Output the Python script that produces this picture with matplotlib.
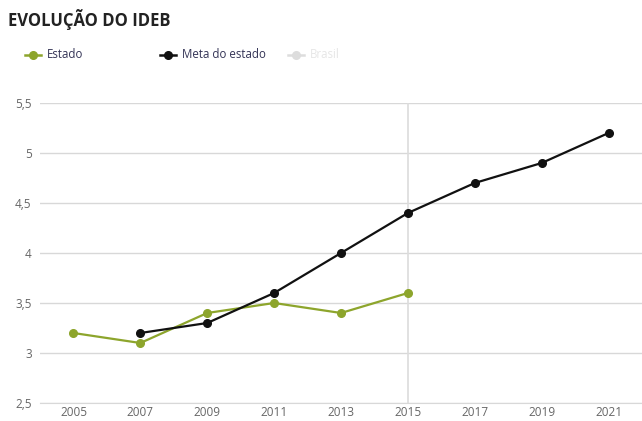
import matplotlib
matplotlib.use("Agg")
import matplotlib.pyplot as plt
from matplotlib.lines import Line2D

years = ["2005", "2007", "2009", "2011", "2013", "2015", "2017", "2019", "2021"]
estado = [3.2, 3.1, 3.4, 3.5, 3.4, 3.6, None, None, None]
meta_estado = [None, 3.2, 3.3, 3.6, 4.0, 4.4, 4.7, 4.9, 5.2]
y_ticks = [2.5, 3.0, 3.5, 4.0, 4.5, 5.0, 5.5]
y_labels = ["2,5", "3", "3,5", "4", "4,5", "5", "5,5"]
legend_labels = ["Estado", "Meta do estado", "Brasil"]

GREEN = "#8da52c"
BLACK = "#111111"
GRID = "#d8d8d8"
TICK = "#666666"

plt.rcParams["font.family"] = ["Open Sans", "DejaVu Sans"]

fig = plt.figure(figsize=(6.42, 4.21), dpi=100)
ax = fig.add_axes([40 / 642, 1 - 403 / 421, 602 / 642, 300 / 421])

x = list(range(len(years)))


def series(vals):
    xs = [i for i, v in zip(x, vals) if v is not None]
    ys = [v for v in vals if v is not None]
    return xs, ys


xs, ys = series(estado)
ax.plot(xs, ys, color=GREEN, lw=1.6, marker="o", ms=5.5, zorder=3)
xs, ys = series(meta_estado)
ax.plot(xs, ys, color=BLACK, lw=1.6, marker="o", ms=5.5, zorder=4)

# hover crosshair on 2015
ax.axvline(5, color="#dcdcdc", lw=1.2, zorder=1)

ax.set_xlim(-0.5, len(years) - 0.5)
ax.set_ylim(2.5, 5.5)
ax.set_yticks(y_ticks)
ax.set_yticklabels(y_labels)
ax.set_xticks(x)
ax.set_xticklabels(years)
ax.yaxis.grid(True, color=GRID, lw=1)
ax.set_axisbelow(True)
for s in ["top", "right", "left"]:
    ax.spines[s].set_visible(False)
ax.spines["bottom"].set_color(GRID)
ax.tick_params(axis="both", length=0, labelsize=8.5, colors=TICK)
ax.tick_params(axis="y", pad=6)
ax.tick_params(axis="x", pad=2)

fig.text(8 / 642, 1 - 19 / 421, "EVOLUÇÃO DO IDEB", fontsize=12,
         fontweight="bold", color="#222222", va="center", ha="left")

# legend row
leg_y = 1 - 55 / 421
items = [
    (25, GREEN, legend_labels[0], "#333355"),
    (160, BLACK, legend_labels[1], "#333355"),
    (288, "#dddddd", legend_labels[2], "#e6e6e6"),
]
for x0, c, lab, tc in items:
    fig.add_artist(Line2D([x0 / 642, (x0 + 16) / 642], [leg_y, leg_y],
                          color=c, lw=1.8, transform=fig.transFigure))
    fig.add_artist(Line2D([(x0 + 8) / 642], [leg_y], color=c, marker="o",
                          ms=5.5, transform=fig.transFigure))
    fig.text((x0 + 22) / 642, leg_y, lab, fontsize=8.3, color=tc,
             va="center", ha="left")

fig.savefig("out.png", dpi=100, facecolor="white")
